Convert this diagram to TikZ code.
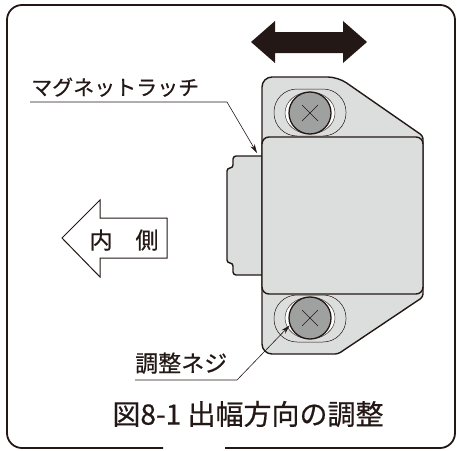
\documentclass[tikz,border=0pt]{standalone}
\usepackage{fontspec}
\setmainfont{Noto Sans CJK JP}[FakeBold=0.5]
\usepackage{xcolor}
\usepackage{tikz}
\usetikzlibrary{arrows.meta, positioning}
\definecolor{ink}{HTML}{231815}
\definecolor{plategrey}{HTML}{DCDDDD}
\definecolor{screwgrey}{HTML}{9FA0A0}
\tikzstyle{outerframe} = [draw=ink, line width=1.8pt, rounded corners=15pt]
\tikzstyle{body} = [draw=ink, line width=1.4pt, fill=plategrey]
\tikzstyle{slot} = [draw=ink, line width=0.5pt, fill=plategrey, rounded corners=23pt]
\tikzstyle{screw} = [circle, draw=ink, line width=1.3pt, fill=screwgrey, minimum size=42pt, inner sep=0pt]
\tikzstyle{labeltext} = [font=\fontsize{21pt}{21pt}\selectfont, text=ink, inner sep=0pt]
\tikzstyle{captiontext} = [font=\fontsize{28pt}{28pt}\selectfont, text=ink, inner sep=0pt]
\tikzstyle{leader} = [draw=ink, line width=0.6pt, ->, >={Stealth[length=9pt,width=5pt]}]
\tikzstyle{blockarrow} = [draw=ink, line width=1pt, fill=white]

\begin{document}
\begin{tikzpicture}[x=1pt, y=-1pt]
        \useasboundingbox (0,0) rectangle (457,450);
        \draw [outerframe] (163,448) -- (7,448) -- (7,5) -- (455,5) -- (455,448) -- (225,448);

        \fill [ink] (251,42) -- (275,21) -- (275,32) -- (343,32) -- (343,21) -- (367,42) -- (343,63) -- (343,53) -- (275,53) -- (275,63) -- cycle;

        \draw [body, rounded corners=3pt] (270,156) -- (233,156) -- (233,168) -- (227,168) -- (227,263) -- (233,263) -- (233,275) -- (270,275);
        \draw [body] (262,215) [rounded corners=10pt] -- (262,77) -- (338,77) [rounded corners=3pt] -- (423,136) -- (423,297) -- (338,354) [rounded corners=10pt] -- (262,354) -- cycle;
        \draw [body, rounded corners=7pt] (262,137) rectangle (423,294);

        \draw [slot] (274,89) rectangle (346,136);
        \draw [slot] (274,295) rectangle (346,342);
        \draw [draw=ink, line width=0.4pt, fill=white] (310,113) ellipse [x radius=25, y radius=21];
        \draw [draw=ink, line width=0.4pt, fill=white] (310,318) ellipse [x radius=25, y radius=21];
        \node (topscrew) [screw] at (310,113) {};
        \node (botscrew) [screw] at (310,318) {};
        \foreach \s in {topscrew, botscrew} {
            \draw [ink, line width=0.6pt] ([shift={(-8,-8)}]\s.center) -- ([shift={(8,8)}]\s.center);
            \draw [ink, line width=0.6pt] ([shift={(-8,8)}]\s.center) -- ([shift={(8,-8)}]\s.center);
        }

        \draw [blockarrow] (62,238) -- (100,200) -- (100,218) -- (167,218) -- (167,258) -- (100,258) -- (100,277) -- cycle;
        \node (inner) [labeltext, font=\fontsize{23pt}{23pt}\selectfont] at (124,240) {内　側};

        \coordinate (latchline) at (30,102);
        \coordinate (latchbend) at (227,102);
        \coordinate (latchtip) at (257,153);
        \node (latchlabel) [labeltext, above right=5pt and 1pt of latchline] {マグネットラッチ};
        \draw [leader] (latchline) -- (latchbend) -- (latchtip);

        \coordinate (screwline) at (135,380);
        \coordinate (screwbend) at (237,380);
        \node (screwlabel) [labeltext, font=\fontsize{23pt}{23pt}\selectfont, above right=6pt and 0pt of screwline] {調整ネジ};
        \draw [leader] (screwline) -- (screwbend) -- (botscrew.200);

        \node (caption) [captiontext] at (248,414) {図8-1 出幅方向の調整};
    \end{tikzpicture}
\end{document}
